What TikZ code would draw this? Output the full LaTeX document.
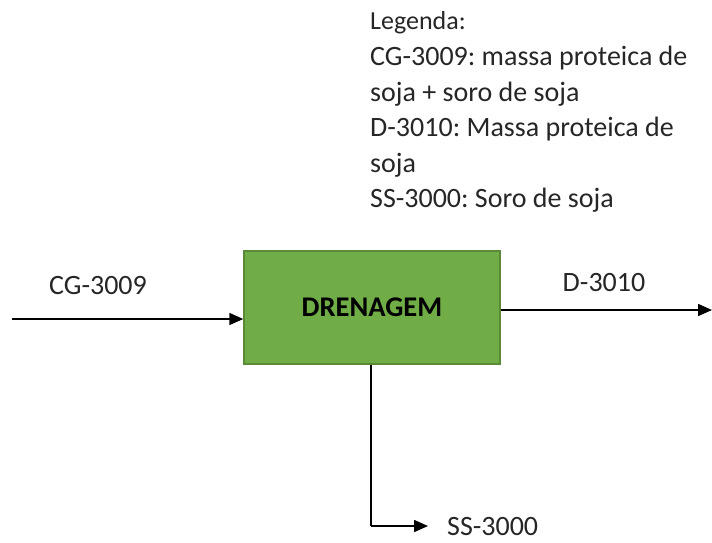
\documentclass[tikz,border=0pt]{standalone}
\usepackage{fontspec}
\setmainfont{Carlito}
\usetikzlibrary{arrows.meta}
\frenchspacing
\begin{document}
\begin{tikzpicture}[x=1pt,y=-1pt,
  flow/.style={line width=1.6pt,-{Triangle[length=14pt,width=12pt]}},
  lbl/.style={font=\fontsize{28}{34}\selectfont,inner sep=0pt,text=black!85},
  procbox/.style={line width=1.5pt,fill=boxgreen,
    minimum width=256pt,minimum height=113pt,inner sep=0pt,
    font=\fontsize{28.5}{34}\selectfont\bfseries}]
  \definecolor{boxgreen}{HTML}{70AD47}
  \useasboundingbox (0,0) rectangle (712,542);
  % legend
  \node[lbl,anchor=north west,align=left] (legend) at (370,11) {%
    {\fontsize{26}{30}\selectfont Legenda:}\\[2.5pt]
    CG-3009: massa proteica de\\[1.5pt]
    soja + soro de soja\\[1.5pt]
    D-3010: Massa proteica de\\[1.5pt]
    soja\\[1.5pt]
    SS-3000: Soro de soja};
  % process block
  \node[procbox,draw=boxgreen!80!black] (dren) at (372,307.5) {DRENAGEM};
  % streams
  \coordinate (inStart) at (12,319);
  \coordinate (outEnd) at (712,310);
  \coordinate (corner) at (371,526);
  \coordinate (ssEnd) at (428,526);
  \draw[flow] (inStart) -- (inStart -| dren.west);
  \draw[flow] (dren.east |- outEnd) -- (outEnd);
  \draw[line width=1.6pt] (dren.south -| corner) -- (corner);
  \draw[flow] (corner) -- (ssEnd);
  % stream labels
  \node[lbl] (cg) at (98,286) {CG-3009};
  \node[lbl] (d) at (604,283) {D-3010};
  \node[lbl,anchor=base west,text depth=0pt] (ss) at (447,535) {SS-3000};
\end{tikzpicture}
\end{document}
